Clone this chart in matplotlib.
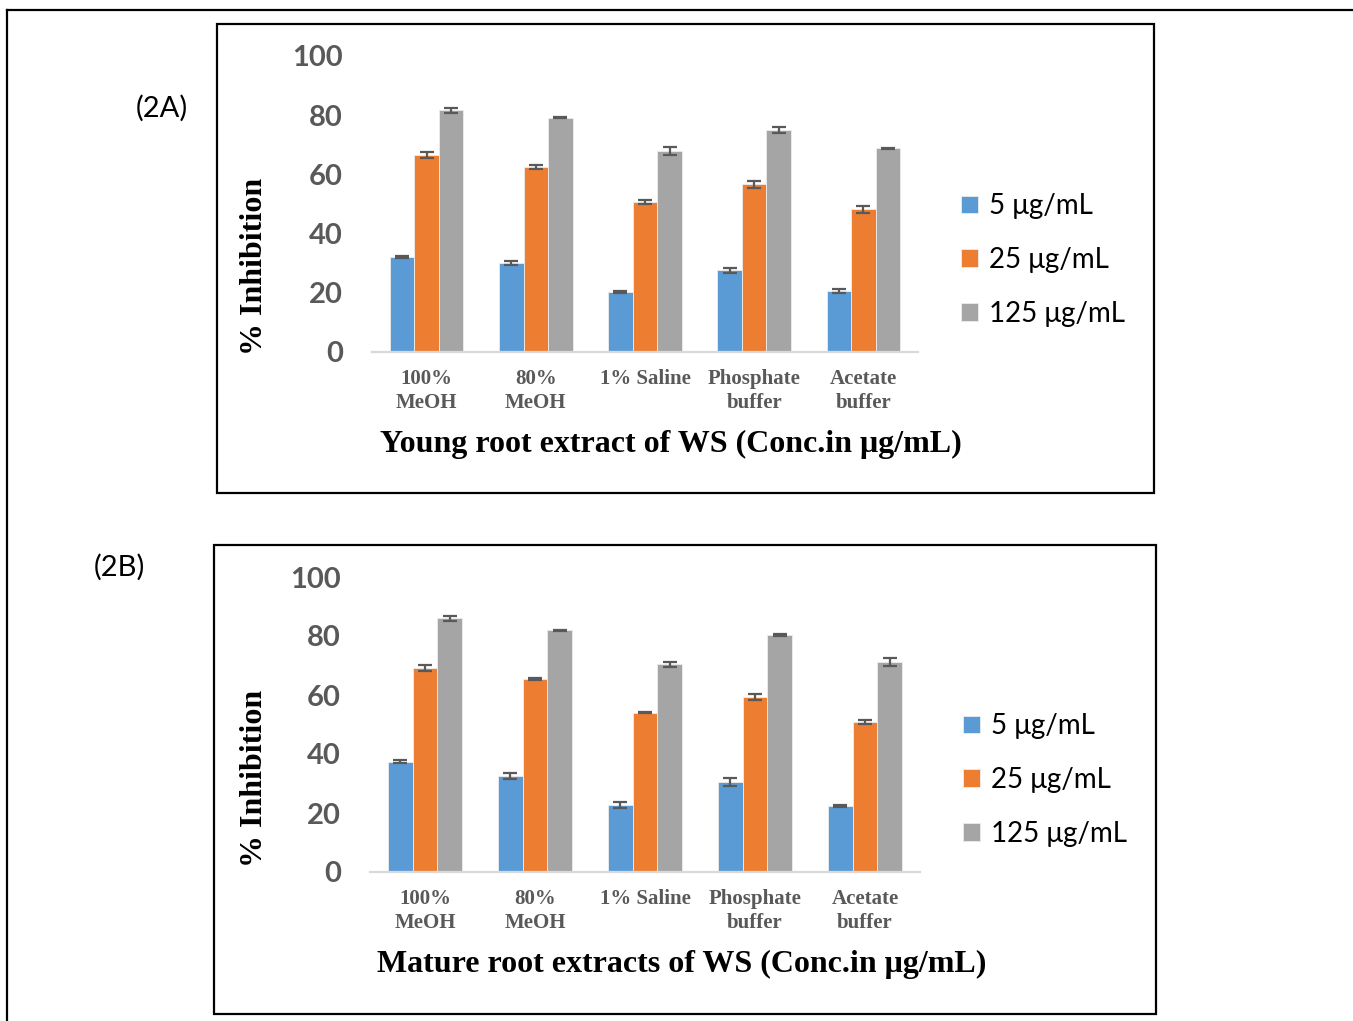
import numpy as np
import matplotlib
matplotlib.use("Agg")
import matplotlib.pyplot as plt
from matplotlib.patches import Rectangle
from matplotlib.lines import Line2D

# data
categories = ["100%\nMeOH", "80%\nMeOH", "1% Saline", "Phosphate\nbuffer", "Acetate\nbuffer"]
series_names = ["5 μg/mL", "25 μg/mL", "125 μg/mL"]

young_5 = [32.0, 30.2, 20.3, 27.6, 20.5]
young_25 = [66.4, 62.5, 50.7, 56.6, 48.2]
young_125 = [81.6, 79.2, 68.0, 75.0, 68.8]
young_5_err = [0.3, 0.7, 0.2, 0.8, 0.7]
young_25_err = [1.0, 0.6, 0.7, 1.2, 1.2]
young_125_err = [0.9, 0.2, 1.3, 0.85, 0.2]

mature_5 = [37.3, 32.6, 22.7, 30.4, 22.4]
mature_25 = [69.2, 65.4, 54.0, 59.3, 50.8]
mature_125 = [86.0, 81.9, 70.4, 80.3, 71.2]
mature_5_err = [0.5, 1.1, 1.0, 1.3, 0.3]
mature_25_err = [1.0, 0.3, 0.2, 0.9, 0.7]
mature_125_err = [0.8, 0.2, 0.8, 0.3, 1.2]

colors = ["#5B9BD5", "#ED7D31", "#A5A5A5"]
W, H = 1353, 1021

fig = plt.figure(figsize=(W / 100, H / 100), dpi=100)


def fx(px):
    return px / W


def fy(py):
    return 1 - py / H


# outer frame lines (top and left)
fig.add_artist(Line2D([fx(7), 1], [fy(10), fy(10)], color="black", lw=1.6))
fig.add_artist(Line2D([fx(7), fx(7)], [fy(10), 0], color="black", lw=1.6))


def draw_panel(box, ax_px, vals, errs, tag, tag_xy, title, ylab_y, legend_xy):
    bx0, by0, bx1, by1 = box
    fig.add_artist(Rectangle((fx(bx0), fy(by1)), fx(bx1 - bx0), (by1 - by0) / H,
                             fill=False, edgecolor="black", lw=1.6))
    fig.text(fx(tag_xy[0]), fy(tag_xy[1]), tag, fontsize=21, family="Lato",
             ha="center", va="center")

    x0, y0, x1, y1 = ax_px
    ax = fig.add_axes([fx(x0), fy(y1), fx(x1 - x0), (y1 - y0) / H])
    x = np.arange(len(categories))
    w = 0.225
    handles = []
    for i, (v, e) in enumerate(zip(vals, errs)):
        b = ax.bar(x + (i - 1) * w, v, w, color=colors[i], edgecolor="#EDEDED", lw=0.6,
                   yerr=e, capsize=5, error_kw=dict(ecolor="#595959", elinewidth=1.6, capthick=1.6),
                   label=series_names[i], zorder=2)
        handles.append(b)
    ax.set_xlim(-0.5, len(categories) - 0.5)
    ax.set_ylim(0, 100)
    ax.set_yticks([0, 20, 40, 60, 80, 100])
    ax.set_xticks(x)
    ax.set_xticklabels(categories, family="Liberation Serif", fontweight="bold", fontsize=15,
                       color="#595959", linespacing=1.3)
    for lab in ax.get_yticklabels():
        lab.set_family("Lato")
        lab.set_fontweight("bold")
        lab.set_fontsize(21)
        lab.set_color("#595959")
    ax.tick_params(axis="both", length=0)
    ax.tick_params(axis="y", pad=21)
    ax.tick_params(axis="x", pad=12)
    for s in ["top", "right", "left"]:
        ax.spines[s].set_visible(False)
    ax.spines["bottom"].set_color("#D9D9D9")
    ax.spines["bottom"].set_linewidth(1.6)

    fig.text(fx(255), fy(ylab_y), "% Inhibition", rotation=90, family="Liberation Serif",
             fontweight="bold", fontsize=23, ha="center", va="center")
    fig.text(fx(title[1]), fy(title[2]), title[0], family="Liberation Serif",
             fontweight="bold", fontsize=23, ha="center", va="center")
    fig.legend(handles=handles, loc="upper left", bbox_to_anchor=(fx(legend_xy[0]), fy(legend_xy[1])),
               frameon=False, prop=dict(family="Lato", size=20), handlelength=0.6,
               handleheight=0.6, handletextpad=0.4, labelspacing=1.0, borderaxespad=0)


draw_panel((217, 24, 1154, 493), (372, 56, 918, 352),
           [young_5, young_25, young_125], [young_5_err, young_25_err, young_125_err],
           "(2A)", (162, 108), ("Young root extract of WS (Conc.in μg/mL)", 671, 444), 266, (950, 182))
draw_panel((214, 545, 1156, 1014), (370, 577, 920, 872),
           [mature_5, mature_25, mature_125], [mature_5_err, mature_25_err, mature_125_err],
           "(2B)", (119, 567), ("Mature root extracts of WS (Conc.in μg/mL)", 682, 964), 778, (952, 702))

fig.savefig("out.png", dpi=100)
